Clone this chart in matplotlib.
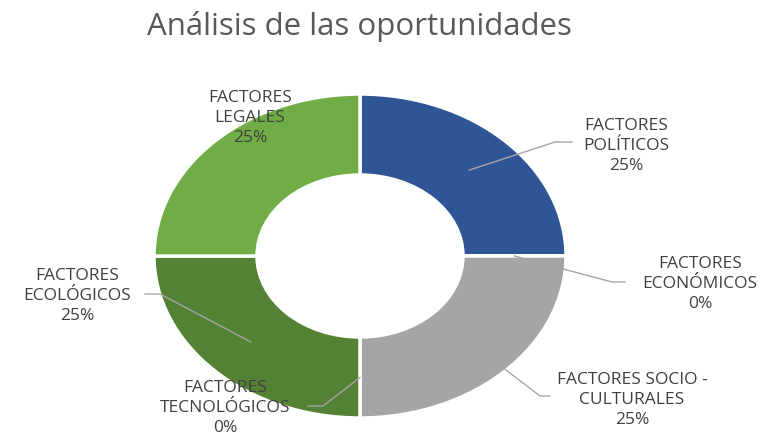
import numpy as np
import matplotlib.pyplot as plt

# data
categories = ['FACTORES\nPOLÍTICOS', 'FACTORES\nECONÓMICOS', 'FACTORES SOCIO -\nCULTURALES',
              'FACTORES\nTECNOLÓGICOS', 'FACTORES\nECOLÓGICOS', 'FACTORES\nLEGALES']
values = [25, 0, 25, 0, 25, 25]
colors = ['#2F5597', '#ED7D31', '#A5A5A5', '#FFC000', '#548235', '#70AD47']

# label layout (pixel centres of text) and leader elbows, None = label inside the ring
label_px = [(626, 146), (700, 284), (632, 400), (225, 408), (77, 296), (250, 118)]
elbow_px = [(555, 143), (612, 283), (540, 397), (323, 407), (160, 295), None]
end_px = [(572, 143), (625, 283), (550, 397), (308, 407), (145, 295), None]

W, H = 773, 435
CX, CY, RX, RY = 360, 257, 206, 162

plt.rcParams['font.family'] = ['Open Sans', 'DejaVu Sans']

fig = plt.figure(figsize=(W / 100, H / 100), dpi=100)
ax = fig.add_axes([0, 0, 1, 1])

wedges, _ = ax.pie(values, colors=colors, startangle=90, counterclock=False,
                   wedgeprops=dict(width=0.5, edgecolor='white', linewidth=2.5))
ax.set_aspect('auto')
ax.set_xlim(-CX / RX, (W - CX) / RX)
ax.set_ylim(-(H - CY) / RY, CY / RY)
ax.axis('off')


def px(p):
    return (p[0] - CX) / RX, (CY - p[1]) / RY


total = sum(values)
for w, lab, v, lp, ep, endp in zip(wedges, categories, values, label_px, elbow_px, end_px):
    tx, ty = px(lp)
    ax.text(tx, ty, f'{lab}\n{v / total:.0%}', ha='center', va='center',
            fontsize=12.5, color='#404040', linespacing=1.3, zorder=5)
    if ep is not None:
        ang = np.deg2rad((w.theta1 + w.theta2) / 2)
        sx, sy = 0.75 * np.cos(ang), 0.75 * np.sin(ang)
        ex, ey = px(ep)
        fx, fy = px(endp)
        ax.plot([sx, ex, fx], [sy, ey, fy], color='#A6A6A6', lw=1, zorder=4)

fig.text(359 / W, 1 - 27 / H, 'Análisis de las oportunidades', ha='center', va='center',
         fontsize=22.5, color='#595959')

fig.savefig('out.png', dpi=100)
